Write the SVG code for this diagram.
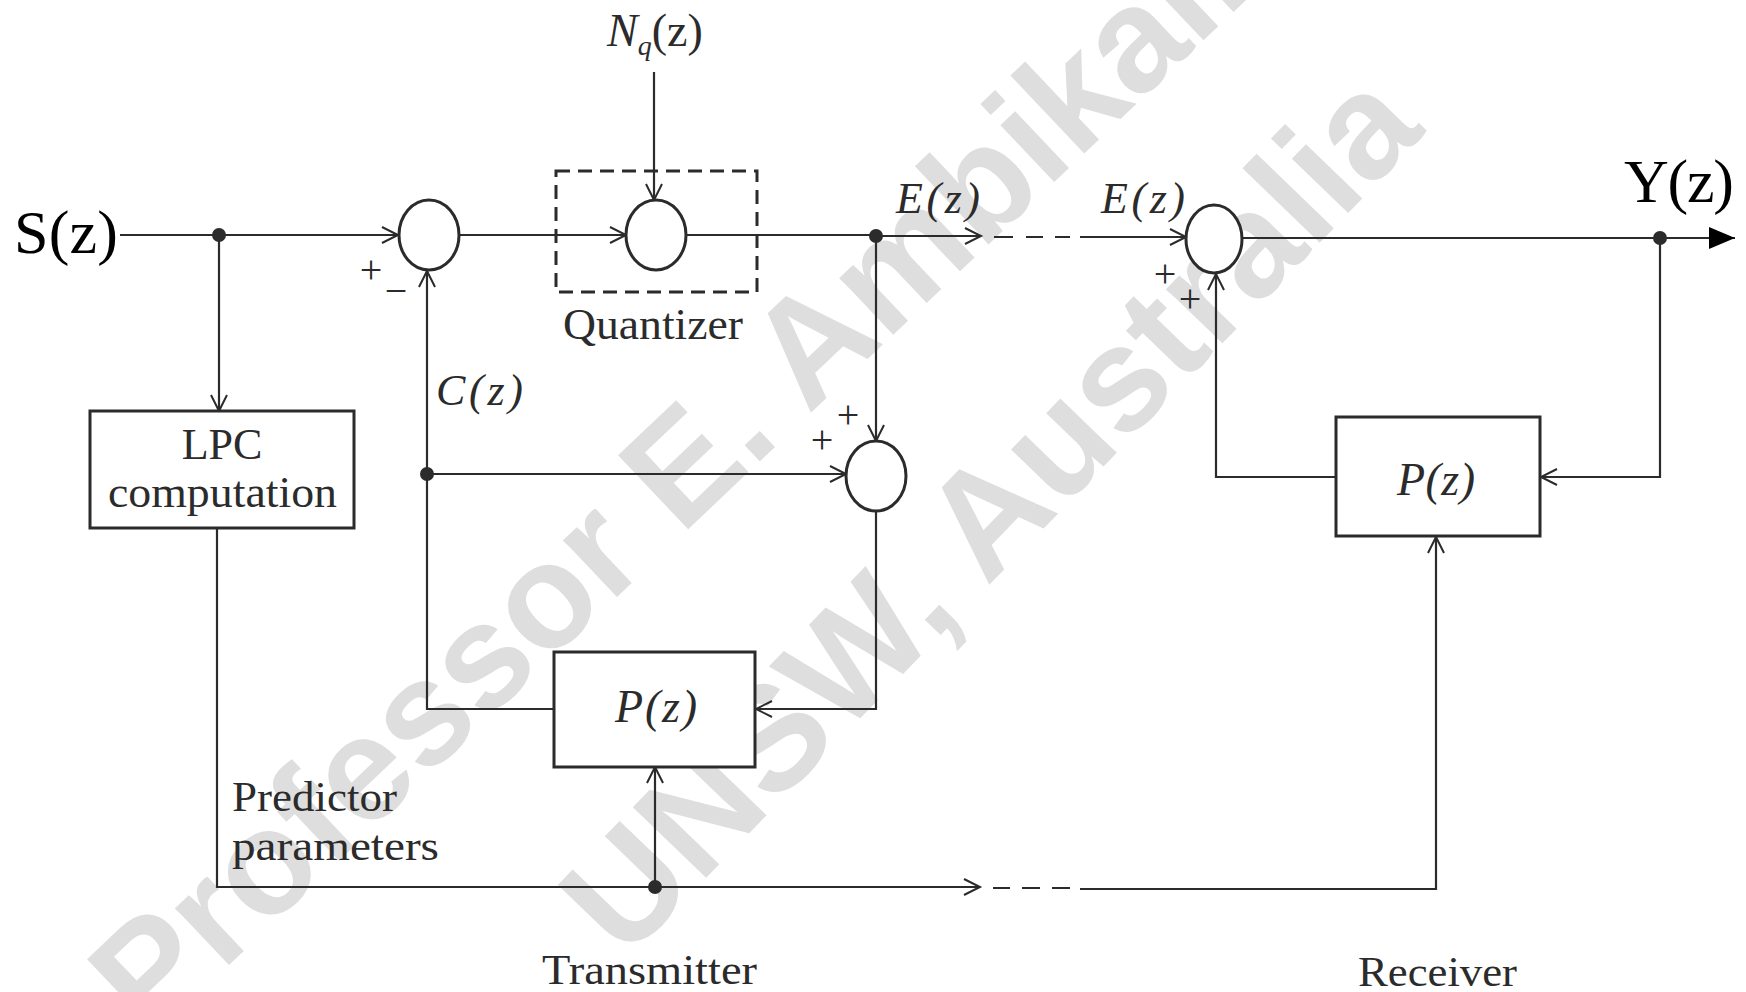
<svg xmlns="http://www.w3.org/2000/svg" width="1746" height="992" viewBox="0 0 1746 992">
<defs>
<style>
.ln{stroke:#2b2b2b;stroke-width:2.2;fill:none}
.bx{stroke:#2b2b2b;stroke-width:3;fill:#fff}
.sum{stroke:#2b2b2b;stroke-width:3;fill:#fff}
.dot{fill:#2b2b2b}
.lbl{font-family:"Liberation Serif","Times New Roman",serif;fill:#2b2b2b}
.it{font-style:italic}
.sg{font-family:"Liberation Serif",serif;fill:#2b2b2b;font-size:40px;text-anchor:middle}
.wm{font-family:"Liberation Sans",Arial,sans-serif;font-weight:bold;fill:#dedede;font-size:148px}
</style>
<marker id="oa" markerUnits="userSpaceOnUse" markerWidth="22" markerHeight="20" refX="18" refY="10" orient="auto" viewBox="0 0 22 20">
<path d="M2,2 L18,10 L2,18" fill="none" stroke="#2b2b2b" stroke-width="2"/>
</marker>
<marker id="fa" markerUnits="userSpaceOnUse" markerWidth="28" markerHeight="22" refX="26" refY="11" orient="auto" viewBox="0 0 28 22">
<path d="M0,0 L26,11 L0,22 z" fill="#000"/>
</marker>
</defs>
<rect width="1746" height="992" fill="#fff"/>

<g id="watermark">
<text class="wm" x="150" y="1040" transform="rotate(-43.5 150 1040)">Professor E. Ambikairajah</text>
<text class="wm" x="625" y="962" transform="rotate(-46 625 962)">UNSW, Australia</text>
</g>

<g id="connectors">
<path class="ln" d="M120,235 H398" marker-end="url(#oa)"/>
<path class="ln" d="M219,235 V411" marker-end="url(#oa)"/>
<path class="ln" d="M459,235 H626" marker-end="url(#oa)"/>
<path class="ln" d="M654,72 V200" marker-end="url(#oa)"/>
<path class="ln" d="M686,235 H876"/>
<path class="ln" d="M876,236 H981" marker-end="url(#oa)"/>
<path class="ln" d="M994,237 H1013 M1026,237 H1043 M1055,237 H1070"/>
<path class="ln" d="M1080,237 H1186" marker-end="url(#oa)"/>
<path class="ln" d="M1242,238 H1735" marker-end="url(#fa)"/>
<path class="ln" d="M1660,238 V477 H1541" marker-end="url(#oa)"/>
<path class="ln" d="M1336,477 H1216 V274" marker-end="url(#oa)"/>
<path class="ln" d="M876,236 V441" marker-end="url(#oa)"/>
<path class="ln" d="M554,709 H427 V271" marker-end="url(#oa)"/>
<path class="ln" d="M427,474 H846" marker-end="url(#oa)"/>
<path class="ln" d="M876,511 V709 H756" marker-end="url(#oa)"/>
<path class="ln" d="M217,529 V887 H980" marker-end="url(#oa)"/>
<path class="ln" d="M993,888 H1010 M1022,888 H1040 M1052,888 H1070"/>
<path class="ln" d="M1080,889 H1436 V537" marker-end="url(#oa)"/>
<path class="ln" d="M655,887 V767" marker-end="url(#oa)"/>
<circle class="dot" cx="219" cy="235" r="7"/>
<circle class="dot" cx="876" cy="236" r="7"/>
<circle class="dot" cx="1660" cy="238" r="7"/>
<circle class="dot" cx="427" cy="474" r="7"/>
<circle class="dot" cx="655" cy="887" r="7"/>
</g>

<g id="input-label">
<text class="lbl" x="14" y="253" font-size="62" style="fill:#000" textLength="104">S(z)</text>
</g>
<g id="output-label">
<text class="lbl" x="1624" y="202" font-size="62" style="fill:#000" textLength="110">Y(z)</text>
</g>
<g id="noise-label">
<text class="lbl" x="607" y="46" font-size="46"><tspan class="it">N</tspan><tspan class="it" font-size="28" dy="9">q</tspan><tspan dy="-9">(z)</tspan></text>
</g>

<g id="lpc">
<rect class="bx" x="90" y="411" width="264" height="117"/>
<text class="lbl" x="222" y="459" font-size="44" text-anchor="middle">LPC</text>
<text class="lbl" x="108" y="507" font-size="44" textLength="229" lengthAdjust="spacingAndGlyphs">computation</text>
</g>

<g id="sum1">
<ellipse class="sum" cx="429" cy="235" rx="30" ry="35"/>
<text class="sg" x="371" y="283">+</text>
<text class="sg" x="396" y="304">−</text>
</g>

<g id="quantizer">
<rect x="556" y="171" width="201" height="121" fill="none" stroke="#2b2b2b" stroke-width="3" stroke-dasharray="14 8"/>
<ellipse class="sum" cx="656" cy="235" rx="30" ry="35"/>
<text class="lbl" x="563" y="339" font-size="44" textLength="180" lengthAdjust="spacingAndGlyphs">Quantizer</text>
</g>

<g id="e-label-tx">
<text class="lbl it" x="896" y="213" font-size="44" textLength="84">E(z)</text>
</g>
<g id="e-label-rx">
<text class="lbl it" x="1101" y="213" font-size="44" textLength="84">E(z)</text>
</g>

<g id="c-label">
<text class="lbl it" x="436" y="405" font-size="44" textLength="87">C(z)</text>
</g>

<g id="sum-tx">
<ellipse class="sum" cx="876" cy="476" rx="30" ry="35"/>
<text class="sg" x="848" y="428">+</text>
<text class="sg" x="822" y="453">+</text>
</g>

<g id="predictor-tx">
<rect class="bx" x="554" y="652" width="201" height="115"/>
<text class="lbl it" x="615" y="722" font-size="46" textLength="82">P(z)</text>
</g>

<g id="sum-rx">
<ellipse class="sum" cx="1214" cy="239" rx="28" ry="34"/>
<text class="sg" x="1165" y="287">+</text>
<text class="sg" x="1190" y="312">+</text>
</g>

<g id="predictor-rx">
<rect class="bx" x="1336" y="417" width="204" height="119"/>
<text class="lbl it" x="1397" y="495" font-size="46" textLength="78">P(z)</text>
</g>

<g id="captions">
<text class="lbl" x="232" y="811" font-size="42" textLength="165" lengthAdjust="spacingAndGlyphs">Predictor</text>
<text class="lbl" x="232" y="860" font-size="42" textLength="207" lengthAdjust="spacingAndGlyphs">parameters</text>
<text class="lbl" x="542" y="984" font-size="42" textLength="215" lengthAdjust="spacingAndGlyphs">Transmitter</text>
<text class="lbl" x="1358" y="986" font-size="42" textLength="159" lengthAdjust="spacingAndGlyphs">Receiver</text>
</g>
</svg>
